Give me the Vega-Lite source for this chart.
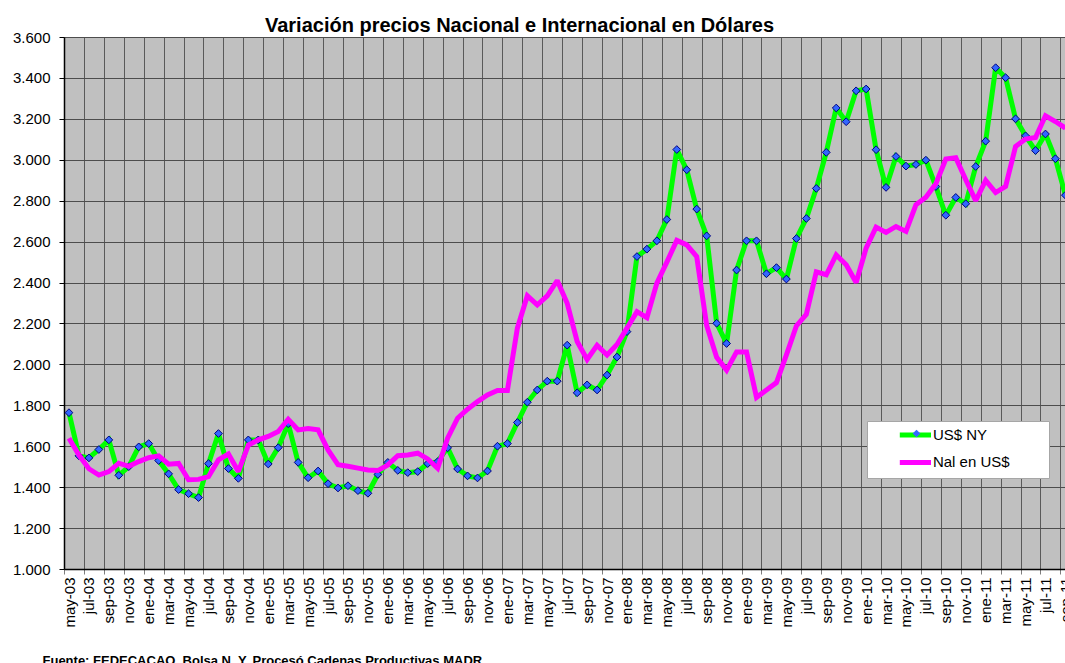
{
  "$schema": "https://vega.github.io/schema/vega-lite/v6.json",
  "width": 1001,
  "height": 532,
  "autosize": {"type": "none"},
  "padding": {"left": 64, "top": 37, "right": 0, "bottom": 94},
  "background": "white",
  "config": {"font": "Liberation Sans", "view": {"fill": "#C0C0C0", "stroke": null}},
  "title": {"text": "Variación precios Nacional e Internacional en Dólares", "fontSize": 20, "fontWeight": "bold", "color": "black", "anchor": "middle", "frame": "group", "dx": -45, "dy": 28, "baseline": "alphabetic", "offset": 6},
  "datasets": {
    "d": [
      {"i":0,"serie":"US$ NY","valor":1764},{"i":1,"serie":"US$ NY","valor":1553},{"i":2,"serie":"US$ NY","valor":1543},{"i":3,"serie":"US$ NY","valor":1584},{"i":4,"serie":"US$ NY","valor":1631},{"i":5,"serie":"US$ NY","valor":1458},{"i":6,"serie":"US$ NY","valor":1500},{"i":7,"serie":"US$ NY","valor":1597},{"i":8,"serie":"US$ NY","valor":1613},{"i":9,"serie":"US$ NY","valor":1530},
      {"i":10,"serie":"US$ NY","valor":1465},{"i":11,"serie":"US$ NY","valor":1388},{"i":12,"serie":"US$ NY","valor":1368},{"i":13,"serie":"US$ NY","valor":1349},{"i":14,"serie":"US$ NY","valor":1515},{"i":15,"serie":"US$ NY","valor":1662},{"i":16,"serie":"US$ NY","valor":1491},{"i":17,"serie":"US$ NY","valor":1443},{"i":18,"serie":"US$ NY","valor":1631},{"i":19,"serie":"US$ NY","valor":1631},
      {"i":20,"serie":"US$ NY","valor":1513},{"i":21,"serie":"US$ NY","valor":1593},{"i":22,"serie":"US$ NY","valor":1710},{"i":23,"serie":"US$ NY","valor":1521},{"i":24,"serie":"US$ NY","valor":1446},{"i":25,"serie":"US$ NY","valor":1479},{"i":26,"serie":"US$ NY","valor":1417},{"i":27,"serie":"US$ NY","valor":1396},{"i":28,"serie":"US$ NY","valor":1407},{"i":29,"serie":"US$ NY","valor":1383},
      {"i":30,"serie":"US$ NY","valor":1370},{"i":31,"serie":"US$ NY","valor":1462},{"i":32,"serie":"US$ NY","valor":1521},{"i":33,"serie":"US$ NY","valor":1482},{"i":34,"serie":"US$ NY","valor":1471},{"i":35,"serie":"US$ NY","valor":1476},{"i":36,"serie":"US$ NY","valor":1515},{"i":37,"serie":"US$ NY","valor":1525},{"i":38,"serie":"US$ NY","valor":1592},{"i":39,"serie":"US$ NY","valor":1489},
      {"i":40,"serie":"US$ NY","valor":1455},{"i":41,"serie":"US$ NY","valor":1445},{"i":42,"serie":"US$ NY","valor":1479},{"i":43,"serie":"US$ NY","valor":1600},{"i":44,"serie":"US$ NY","valor":1613},{"i":45,"serie":"US$ NY","valor":1716},{"i":46,"serie":"US$ NY","valor":1815},{"i":47,"serie":"US$ NY","valor":1875},{"i":48,"serie":"US$ NY","valor":1918},{"i":49,"serie":"US$ NY","valor":1918},
      {"i":50,"serie":"US$ NY","valor":2094},{"i":51,"serie":"US$ NY","valor":1861},{"i":52,"serie":"US$ NY","valor":1900},{"i":53,"serie":"US$ NY","valor":1875},{"i":54,"serie":"US$ NY","valor":1948},{"i":55,"serie":"US$ NY","valor":2036},{"i":56,"serie":"US$ NY","valor":2160},{"i":57,"serie":"US$ NY","valor":2527},{"i":58,"serie":"US$ NY","valor":2563},{"i":59,"serie":"US$ NY","valor":2604},
      {"i":60,"serie":"US$ NY","valor":2708},{"i":61,"serie":"US$ NY","valor":3050},{"i":62,"serie":"US$ NY","valor":2951},{"i":63,"serie":"US$ NY","valor":2759},{"i":64,"serie":"US$ NY","valor":2628},{"i":65,"serie":"US$ NY","valor":2201},{"i":66,"serie":"US$ NY","valor":2102},{"i":67,"serie":"US$ NY","valor":2461},{"i":68,"serie":"US$ NY","valor":2604},{"i":69,"serie":"US$ NY","valor":2604},
      {"i":70,"serie":"US$ NY","valor":2443},{"i":71,"serie":"US$ NY","valor":2473},{"i":72,"serie":"US$ NY","valor":2417},{"i":73,"serie":"US$ NY","valor":2615},{"i":74,"serie":"US$ NY","valor":2713},{"i":75,"serie":"US$ NY","valor":2860},{"i":76,"serie":"US$ NY","valor":3036},{"i":77,"serie":"US$ NY","valor":3253},{"i":78,"serie":"US$ NY","valor":3186},{"i":79,"serie":"US$ NY","valor":3337},
      {"i":80,"serie":"US$ NY","valor":3346},{"i":81,"serie":"US$ NY","valor":3049},{"i":82,"serie":"US$ NY","valor":2865},{"i":83,"serie":"US$ NY","valor":3016},{"i":84,"serie":"US$ NY","valor":2969},{"i":85,"serie":"US$ NY","valor":2977},{"i":86,"serie":"US$ NY","valor":2998},{"i":87,"serie":"US$ NY","valor":2869},{"i":88,"serie":"US$ NY","valor":2729},{"i":89,"serie":"US$ NY","valor":2816},
      {"i":90,"serie":"US$ NY","valor":2785},{"i":91,"serie":"US$ NY","valor":2967},{"i":92,"serie":"US$ NY","valor":3091},{"i":93,"serie":"US$ NY","valor":3450},{"i":94,"serie":"US$ NY","valor":3401},{"i":95,"serie":"US$ NY","valor":3200},{"i":96,"serie":"US$ NY","valor":3117},{"i":97,"serie":"US$ NY","valor":3045},{"i":98,"serie":"US$ NY","valor":3126},{"i":99,"serie":"US$ NY","valor":3005},
      {"i":100,"serie":"US$ NY","valor":2827},
      {"i":0,"serie":"Nal en US$","valor":1639},{"i":1,"serie":"Nal en US$","valor":1557},{"i":2,"serie":"Nal en US$","valor":1490},{"i":3,"serie":"Nal en US$","valor":1459},{"i":4,"serie":"Nal en US$","valor":1476},{"i":5,"serie":"Nal en US$","valor":1517},{"i":6,"serie":"Nal en US$","valor":1502},{"i":7,"serie":"Nal en US$","valor":1525},{"i":8,"serie":"Nal en US$","valor":1544},{"i":9,"serie":"Nal en US$","valor":1553},
      {"i":10,"serie":"Nal en US$","valor":1512},{"i":11,"serie":"Nal en US$","valor":1516},{"i":12,"serie":"Nal en US$","valor":1436},{"i":13,"serie":"Nal en US$","valor":1438},{"i":14,"serie":"Nal en US$","valor":1451},{"i":15,"serie":"Nal en US$","valor":1533},{"i":16,"serie":"Nal en US$","valor":1562},{"i":17,"serie":"Nal en US$","valor":1476},{"i":18,"serie":"Nal en US$","valor":1606},{"i":19,"serie":"Nal en US$","valor":1631},
      {"i":20,"serie":"Nal en US$","valor":1648},{"i":21,"serie":"Nal en US$","valor":1672},{"i":22,"serie":"Nal en US$","valor":1732},{"i":23,"serie":"Nal en US$","valor":1680},{"i":24,"serie":"Nal en US$","valor":1687},{"i":25,"serie":"Nal en US$","valor":1680},{"i":26,"serie":"Nal en US$","valor":1582},{"i":27,"serie":"Nal en US$","valor":1510},{"i":28,"serie":"Nal en US$","valor":1502},{"i":29,"serie":"Nal en US$","valor":1493},
      {"i":30,"serie":"Nal en US$","valor":1484},{"i":31,"serie":"Nal en US$","valor":1481},{"i":32,"serie":"Nal en US$","valor":1509},{"i":33,"serie":"Nal en US$","valor":1554},{"i":34,"serie":"Nal en US$","valor":1557},{"i":35,"serie":"Nal en US$","valor":1566},{"i":36,"serie":"Nal en US$","valor":1538},{"i":37,"serie":"Nal en US$","valor":1492},{"i":38,"serie":"Nal en US$","valor":1639},{"i":39,"serie":"Nal en US$","valor":1737},
      {"i":40,"serie":"Nal en US$","valor":1781},{"i":41,"serie":"Nal en US$","valor":1818},{"i":42,"serie":"Nal en US$","valor":1851},{"i":43,"serie":"Nal en US$","valor":1872},{"i":44,"serie":"Nal en US$","valor":1872},{"i":45,"serie":"Nal en US$","valor":2177},{"i":46,"serie":"Nal en US$","valor":2335},{"i":47,"serie":"Nal en US$","valor":2291},{"i":48,"serie":"Nal en US$","valor":2335},{"i":49,"serie":"Nal en US$","valor":2410},
      {"i":50,"serie":"Nal en US$","valor":2299},{"i":51,"serie":"Nal en US$","valor":2112},{"i":52,"serie":"Nal en US$","valor":2024},{"i":53,"serie":"Nal en US$","valor":2093},{"i":54,"serie":"Nal en US$","valor":2046},{"i":55,"serie":"Nal en US$","valor":2097},{"i":56,"serie":"Nal en US$","valor":2177},{"i":57,"serie":"Nal en US$","valor":2258},{"i":58,"serie":"Nal en US$","valor":2228},{"i":59,"serie":"Nal en US$","valor":2397},
      {"i":60,"serie":"Nal en US$","valor":2500},{"i":61,"serie":"Nal en US$","valor":2606},{"i":62,"serie":"Nal en US$","valor":2584},{"i":63,"serie":"Nal en US$","valor":2527},{"i":64,"serie":"Nal en US$","valor":2190},{"i":65,"serie":"Nal en US$","valor":2035},{"i":66,"serie":"Nal en US$","valor":1972},{"i":67,"serie":"Nal en US$","valor":2061},{"i":68,"serie":"Nal en US$","valor":2061},{"i":69,"serie":"Nal en US$","valor":1839},
      {"i":70,"serie":"Nal en US$","valor":1875},{"i":71,"serie":"Nal en US$","valor":1911},{"i":72,"serie":"Nal en US$","valor":2046},{"i":73,"serie":"Nal en US$","valor":2188},{"i":74,"serie":"Nal en US$","valor":2245},{"i":75,"serie":"Nal en US$","valor":2452},{"i":76,"serie":"Nal en US$","valor":2438},{"i":77,"serie":"Nal en US$","valor":2535},{"i":78,"serie":"Nal en US$","valor":2487},{"i":79,"serie":"Nal en US$","valor":2400},
      {"i":80,"serie":"Nal en US$","valor":2568},{"i":81,"serie":"Nal en US$","valor":2671},{"i":82,"serie":"Nal en US$","valor":2645},{"i":83,"serie":"Nal en US$","valor":2674},{"i":84,"serie":"Nal en US$","valor":2650},{"i":85,"serie":"Nal en US$","valor":2780},{"i":86,"serie":"Nal en US$","valor":2817},{"i":87,"serie":"Nal en US$","valor":2883},{"i":88,"serie":"Nal en US$","valor":3004},{"i":89,"serie":"Nal en US$","valor":3010},
      {"i":90,"serie":"Nal en US$","valor":2902},{"i":91,"serie":"Nal en US$","valor":2800},{"i":92,"serie":"Nal en US$","valor":2899},{"i":93,"serie":"Nal en US$","valor":2840},{"i":94,"serie":"Nal en US$","valor":2870},{"i":95,"serie":"Nal en US$","valor":3065},{"i":96,"serie":"Nal en US$","valor":3101},{"i":97,"serie":"Nal en US$","valor":3109},{"i":98,"serie":"Nal en US$","valor":3215},{"i":99,"serie":"Nal en US$","valor":3187},
      {"i":100,"serie":"Nal en US$","valor":3155}
    ]
  },
  "data": {"name": "d"},
  "encoding": {
    "x": {
      "field": "i", "type": "quantitative",
      "scale": {"domain": [-0.5, 99.96], "nice": false, "zero": false},
      "axis": {
        "values": [-0.5,1.5,3.5,5.5,7.5,9.5,11.5,13.5,15.5,17.5,19.5,21.5,23.5,25.5,27.5,29.5,31.5,33.5,35.5,37.5,39.5,41.5,43.5,45.5,47.5,49.5,51.5,53.5,55.5,57.5,59.5,61.5,63.5,65.5,67.5,69.5,71.5,73.5,75.5,77.5,79.5,81.5,83.5,85.5,87.5,89.5,91.5,93.5,95.5,97.5,99.5],
        "grid": true, "gridColor": "#5a5a5a", "gridWidth": 1, "gridOpacity": 1,
        "domainColor": "black", "domainWidth": 1.5,
        "tickColor": "#7f7f7f", "tickSize": 5,
        "labelAngle": -90, "labelAlign": "right", "labelBaseline": "middle", "labelOffset": 5, "labelPadding": 3,
        "labelFontSize": 15, "labelColor": "black", "labelFlush": false, "labelOverlap": false, "labelBound": false,
        "labelExpr": "['ene','feb','mar','abr','may','jun','jul','ago','sep','oct','nov','dic'][(round(datum.value + 0.5) + 4) % 12] + '-' + slice('0' + (floor((round(datum.value + 0.5) + 4) / 12) + 3), -2)",
        "title": "Fuente: FEDECACAO. Bolsa N. Y.  Procesó Cadenas Productivas MADR",
        "titleFontSize": 13, "titleFontWeight": "bold", "titleColor": "black",
        "titleX": -22, "titleY": 85.5, "titleAlign": "left", "titleBaseline": "top", "titleAnchor": "start"
      }
    },
    "y": {
      "field": "valor", "type": "quantitative",
      "scale": {"domain": [1000, 3600], "nice": false, "zero": false},
      "axis": {
        "values": [1000,1200,1400,1600,1800,2000,2200,2400,2600,2800,3000,3200,3400,3600],
        "grid": true, "gridColor": "#4d4d4d", "gridWidth": 1, "gridOpacity": 1,
        "domainColor": "black", "domainWidth": 1.5,
        "tickColor": "black", "tickSize": 5,
        "labelPadding": 9, "labelFontSize": 15, "labelColor": "black", "labelFlush": false,
        "labelExpr": "replace(format(datum.value, ','), ',', '.')",
        "title": null
      }
    }
  },
  "layer": [
    {
      "transform": [{"filter": "datum.serie == 'US$ NY'"}],
      "mark": {"type": "line", "strokeWidth": 5, "strokeJoin": "miter", "strokeMiterLimit": 2},
      "encoding": {
        "color": {
          "field": "serie", "type": "nominal",
          "scale": {"domain": ["US$ NY", "Nal en US$"], "range": ["#00FF00", "#FF00FF"]},
          "legend": {
            "orient": "none", "legendX": 803, "legendY": 384, "title": null,
            "fillColor": "white", "strokeColor": "#A6A6A6", "padding": 5.4,
            "symbolType": "M-2.6,0L2.6,0", "symbolSize": 144, "symbolStrokeWidth": 5, "symbolOffset": 34.5,
            "labelFontSize": 15, "labelColor": "black", "labelOffset": 9, "rowPadding": 6.5,
            "labelExpr": "datum.label + '\u00a0\u00a0\u00a0\u00a0\u00a0\u00a0\u00a0\u00a0\u200b'"
          }
        }
      }
    },
    {
      "transform": [{"filter": "datum.serie == 'US$ NY'"}],
      "mark": {"type": "point", "filled": true, "fill": "#3366FF", "stroke": "#000080", "strokeWidth": 1, "size": 60, "opacity": 1},
      "encoding": {
        "shape": {
          "field": "serie", "type": "nominal",
          "scale": {"domain": ["US$ NY"], "range": ["diamond"]},
          "legend": {
            "orient": "none", "legendX": 848, "legendY": 392, "title": null, "padding": 0,
            "symbolFillColor": "#3366FF", "symbolStrokeColor": "#000080", "symbolStrokeWidth": 1, "symbolSize": 60,
            "labelOpacity": 0, "labelFontSize": 1
          }
        }
      }
    },
    {
      "transform": [{"filter": "datum.serie == 'Nal en US$'"}],
      "mark": {"type": "line", "strokeWidth": 5, "strokeJoin": "miter", "strokeMiterLimit": 2},
      "encoding": {"color": {"field": "serie", "type": "nominal"}}
    }
  ]
}
